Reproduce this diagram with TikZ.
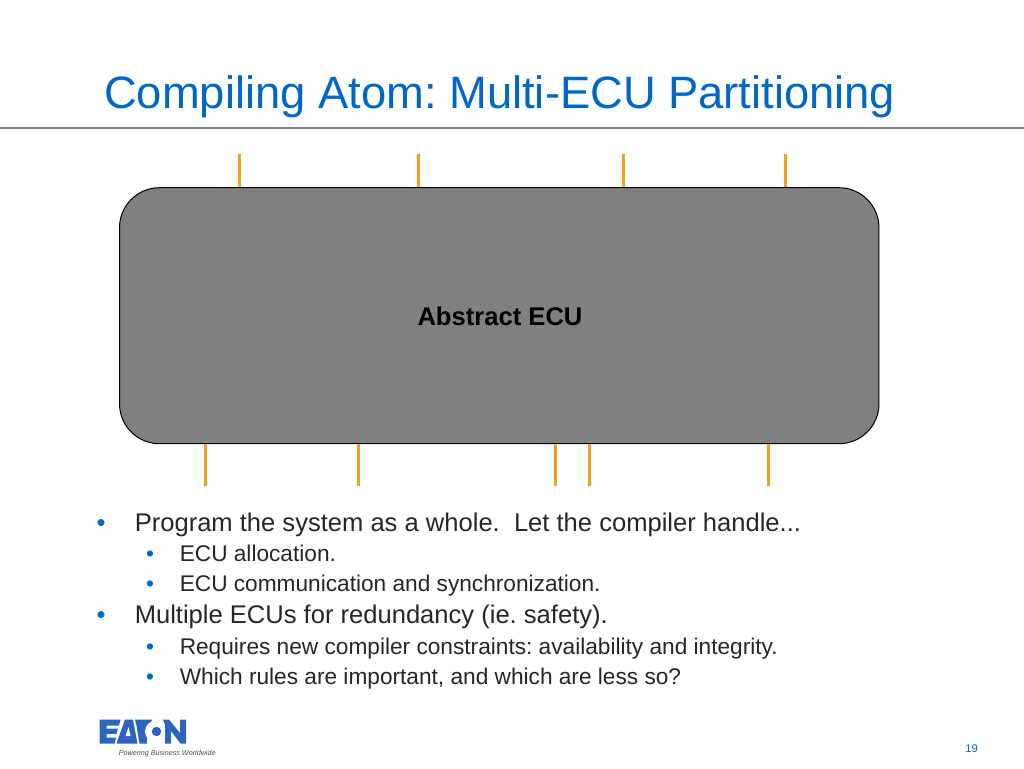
\documentclass[tikz,border=0pt]{standalone}
\usepackage{fontspec}
\setmainfont{Liberation Sans}
\frenchspacing
\definecolor{eatonblue}{RGB}{0,103,198}
\definecolor{logoblue}{RGB}{45,100,190}
\definecolor{wire}{RGB}{245,158,27}
\tikzset{
  wireline/.style={draw=wire,line width=2pt},
  lvlone/.style={anchor=base west,inner sep=0pt,font=\fontsize{19.17pt}{22pt}\selectfont,text=black!85},
  lvltwo/.style={anchor=base west,inner sep=0pt,font=\fontsize{17pt}{20pt}\selectfont,text=black!85},
  bulletmark/.style={anchor=base,inner sep=0pt,text=eatonblue},
}
\begin{document}
\begin{tikzpicture}[x=0.75pt,y=-0.75pt]
\useasboundingbox (0,0) rectangle (1024,768);
\node[anchor=base west,inner sep=0pt,text=eatonblue,font=\fontsize{34pt}{36pt}\selectfont] (title) at (104,108) {Compiling Atom: Multi-ECU Partitioning};
\coordinate (ruleL) at (0,127.5);
\coordinate (ruleR) at (1024,127.5);
\draw[draw=black!50,line width=1.5pt] (ruleL) -- (ruleR);
\foreach \n/\x in {t1/239.4,t2/418.4,t3/623.4,t4/785.4}{
  \coordinate (\n) at (\x,154);
}
\foreach \n/\x in {b1/205.4,b2/358.4,b3/555.4,b4/589.4,b5/768.4}{
  \coordinate (\n) at (\x,486);
}
\node[draw=black,fill=black!50,line width=0.75pt,rounded corners=30pt,minimum width=569.6pt,minimum height=192pt,inner sep=0pt,anchor=north west] (ecu) at (119,187.2) {};
\foreach \n in {t1,t2,t3,t4}{\draw[wireline] (\n) -- (\n |- ecu.north);}
\foreach \n in {b1,b2,b3,b4,b5}{\draw[wireline] (\n |- ecu.south) -- (\n);}
\node[inner sep=0pt,font=\fontsize{19.2pt}{22pt}\selectfont\bfseries,text=black,anchor=base] (lab) at (500,325.8) {Abstract ECU};
\node[bulletmark,font=\fontsize{19.17pt}{22pt}\selectfont] (m1) at (101,531.4) {•};
\node[lvlone] (l1) at (134.5,531.4) {Program the system as a whole.\ \ Let the compiler handle...};
\node[bulletmark,font=\fontsize{17pt}{20pt}\selectfont] (m2) at (150,561) {•};
\node[lvltwo] (l2) at (179.5,561) {ECU allocation.};
\node[bulletmark,font=\fontsize{17pt}{20pt}\selectfont] (m3) at (150,591) {•};
\node[lvltwo] (l3) at (179.5,591) {ECU communication and synchronization.};
\node[bulletmark,font=\fontsize{19.17pt}{22pt}\selectfont] (m4) at (101,623.8) {•};
\node[lvlone] (l4) at (134.5,623.8) {Multiple ECUs for redundancy (ie. safety).};
\node[bulletmark,font=\fontsize{17pt}{20pt}\selectfont] (m5) at (150,654) {•};
\node[lvltwo] (l5) at (179.5,654) {Requires new compiler constraints: availability and integrity.};
\node[bulletmark,font=\fontsize{17pt}{20pt}\selectfont] (m6) at (150,684.4) {•};
\node[lvltwo] (l6) at (179.5,684.4) {Which rules are important, and which are less so?};
% logo
\fill[logoblue] (99.5,719.5) -- (120.5,719.5) -- (119,725.5) -- (106.5,725.5) -- (106.5,728.5) -- (118,728.5) -- (116.5,734) -- (106.5,734) -- (106.5,737.5) -- (116,737.5) -- (114.5,743.5) -- (99.5,743.5) -- cycle;
\fill[logoblue] (116.5,743.5) -- (125,719.5) -- (133,719.5) -- (137.5,743.5) -- cycle;
\fill[white] (128.5,727) -- (130.5,736) -- (125.5,736) -- cycle;
\fill[logoblue] (135,719.5) -- (152,719.5) -- (150,725.5) -- (147,725.5) -- (147,743.5) -- (139.5,743.5) -- (136.5,725.5) -- cycle;
\fill[white] (156,731.5) circle (11);
\fill[logoblue] (156.5,731.5) circle (4.7);
\fill[logoblue] (163,719.5) -- (169,719.5) -- (180,733) -- (180,719.5) -- (186,719.5) -- (186,743.5) -- (180.5,743.5) -- (171,731) -- (171,743.5) -- (165,743.5) -- (165,725) -- cycle;
\node[anchor=base west,inner sep=0pt,font=\fontsize{5.4pt}{6pt}\selectfont\itshape,text=black!70] (tag) at (118.5,755) {Powering Business Worldwide};
\node[anchor=base east,inner sep=0pt,text=eatonblue,font=\fontsize{8.4pt}{10pt}\selectfont] (page) at (978,752) {19};
\end{tikzpicture}
\end{document}
